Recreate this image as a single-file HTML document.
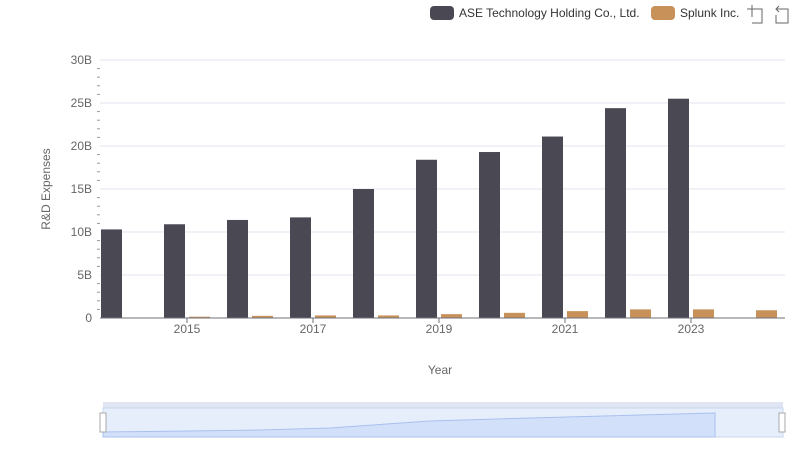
<!DOCTYPE html>
<html><head><meta charset="utf-8"><style>
body{margin:0;background:#fff;font-family:"Liberation Sans",sans-serif}
svg text{font-family:"Liberation Sans",sans-serif}
</style></head><body>
<svg id="c" width="800" height="461" xmlns="http://www.w3.org/2000/svg">
<g>
 <rect x="430" y="6" width="24" height="14" rx="4" fill="#4a4953"/>
 <text x="459" y="17" font-size="12" fill="#333">ASE Technology Holding Co., Ltd.</text>
 <rect x="651" y="6" width="24" height="14" rx="4" fill="#c8915a"/>
 <text x="680" y="17" font-size="12" fill="#333">Splunk Inc.</text>
 <g stroke="#666" fill="none" stroke-width="1"><path d="M748 9h14v14h-10M752 5v12M747 9h6"/></g>
 <g stroke="#666" fill="none" stroke-width="1"><path d="M776 9h12v14h-12v-8M779 6l-3 3 3 3"/></g>
</g>
<g id="grid"></g>
<g id="yaxis"></g>
<g id="bars"></g>
<g id="xaxis"></g>
<text x="50" y="189" font-size="12" fill="#666" text-anchor="middle" transform="rotate(-90 50 189)">R&amp;D Expenses</text>
<text x="440" y="374" font-size="12" fill="#666" text-anchor="middle">Year</text>
<g>
 <rect x="103" y="402" width="680" height="6" fill="#dfe5f2"/>
 <rect x="103" y="408" width="680" height="29" fill="#e6eefc" stroke="#c9d5ee"/>
 <path d="M103 432 L260 430 L330 428 L430 421 L530 418 L640 415 L715 413 L715 437 L103 437Z" fill="#d3e0fa" stroke="#a9c0ee"/>
 <rect x="100" y="413" width="6" height="19" fill="#fff" stroke="#aaa"/>
 <rect x="779" y="413" width="6" height="19" fill="#fff" stroke="#aaa"/>
</g>
</svg>
<script>
const years=[2014,2015,2016,2017,2018,2019,2020,2021,2022,2023,2024];
const aseValues=[10.3,10.9,11.4,11.7,15.0,18.4,19.3,21.1,24.4,25.5,null];
const splunkValues=[0.05,0.15,0.25,0.3,0.3,0.45,0.6,0.8,1.0,1.0,0.9];
const yTicks=[0,5,10,15,20,25,30];
const yTickLabels=["0","5B","10B","15B","20B","25B","30B"];
const xTickYears=[2015,2017,2019,2021,2023];
const NS="http://www.w3.org/2000/svg";
const x0=92.5,bw=63,y0=318,pxPerB=8.6;
const xs=i=>x0+bw*i;
const ys=v=>y0-v*pxPerB;
function mk(t,a,p){const e=document.createElementNS(NS,t);for(const k in a)e.setAttribute(k,a[k]);p.appendChild(e);return e;}
const grid=document.getElementById('grid'),ya=document.getElementById('yaxis'),bars=document.getElementById('bars'),xa=document.getElementById('xaxis');
yTicks.forEach((v,i)=>{
 if(v>0){const l=mk('line',{x1:100,x2:785,y1:ys(v),y2:ys(v),stroke:'#e0e6f1'},grid);
 
 }
 const t=mk('text',{x:92,y:ys(v)+4,'font-size':12,fill:'#666','text-anchor':'end'},ya);
 t.textContent=yTickLabels[i];
 
 
});
for(let v=1;v<30;v++){if(v%5===0)continue;
 const m=mk('line',{x1:97,x2:100,y1:ys(v),y2:ys(v),stroke:'#999'},ya);
 
 }
years.forEach((y,i)=>{
 const c=xs(i)+bw/2;
 if(aseValues[i]!=null){const r=mk('rect',{x:c-23,y:ys(aseValues[i]),width:21,height:aseValues[i]*pxPerB,fill:'#4a4953'},bars);
 
 }
 if(splunkValues[i]!=null){const r=mk('rect',{x:c+2,y:ys(splunkValues[i]),width:21,height:splunkValues[i]*pxPerB,fill:'#c8915a'},bars);
 
 }
});
const ax=mk('line',{x1:100,x2:785,y1:y0,y2:y0,stroke:'#6e7079'},xa);


xTickYears.forEach(y=>{
 const c=xs(years.indexOf(y))+bw/2;
 const tk=mk('line',{x1:c,x2:c,y1:y0,y2:y0+5,stroke:'#6e7079'},xa);
 
 
 const t=mk('text',{x:c,y:y0+15,'font-size':12,fill:'#666','text-anchor':'middle'},xa);
 t.textContent=y;
 
 
});
</script>
</body></html>
